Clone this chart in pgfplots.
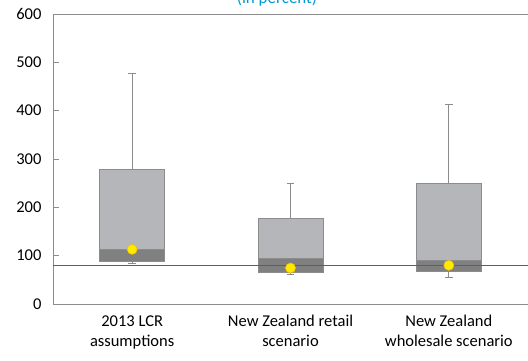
\documentclass[border=0pt]{standalone}
\usepackage{pgfplots}
\pgfplotsset{compat=1.18}
\usepackage{fontspec}
\setmainfont{Carlito}
\definecolor{lightbox}{RGB}{181,182,186}
\definecolor{darkbox}{RGB}{128,128,128}
\definecolor{bordergray}{RGB}{140,140,140}
\definecolor{axisgray}{RGB}{140,140,140}
\definecolor{titleblue}{RGB}{0,153,210}
\definecolor{dotyellow}{RGB}{255,235,0}
\definecolor{dotedge}{RGB}{245,190,0}
\definecolor{threshred}{RGB}{235,35,35}
\begin{document}
\begin{tikzpicture}
\begin{axis}[
  at={(0,0)}, anchor=south west,
  scale only axis, width=475pt, height=290pt,
  xmin=-0.5, xmax=2.5, ymin=0, ymax=600,
  axis x line*=bottom, axis y line*=left,
  axis line style={draw=axisgray, line width=0.8pt},
  tick align=inside,
  ytick={0,100,...,600},
  major tick length=6pt,
  tick style={draw=axisgray, line width=0.8pt},
  xtick={0,1,2},
  xticklabels={{2013 LCR\\assumptions},{New Zealand retail\\scenario},{New Zealand\\wholesale scenario}},
  x tick style={draw=none},
  extra x ticks={0.5,1.5},
  extra x tick labels={},
  extra x tick style={tick style={draw=axisgray, line width=0.8pt}, major tick length=4pt},
  xticklabel style={align=center, font=\fontsize{16.5}{20}\selectfont, yshift=-8pt},
  yticklabel style={font=\fontsize{16.5}{20}\selectfont, xshift=-8pt},
  /pgf/number format/assume math mode=true,
  clip=false,
]
% 2013 LCR
\addplot[bordergray, line width=0.8pt] coordinates {(0,278) (0,478)};
\addplot[bordergray, line width=0.8pt] coordinates {(-0.025,478) (0.025,478)};
\addplot[bordergray, line width=0.8pt] coordinates {(0,87.5) (0,83)};
\addplot[bordergray, line width=0.8pt] coordinates {(-0.025,83) (0.025,83)};
\addplot[draw=bordergray, fill=lightbox, line width=0.8pt] coordinates {(-0.205,113) (0.205,113) (0.205,278) (-0.205,278) (-0.205,113)};
\addplot[draw=bordergray, fill=darkbox, line width=0.8pt] coordinates {(-0.205,87.5) (0.205,87.5) (0.205,113) (-0.205,113) (-0.205,87.5)};
% NZ retail
\addplot[bordergray, line width=0.8pt] coordinates {(1,176.5) (1,249)};
\addplot[bordergray, line width=0.8pt] coordinates {(0.975,249) (1.025,249)};
\addplot[bordergray, line width=0.8pt] coordinates {(1,65) (1,61)};
\addplot[bordergray, line width=0.8pt] coordinates {(0.975,61) (1.025,61)};
\addplot[draw=bordergray, fill=lightbox, line width=0.8pt] coordinates {(0.795,94.5) (1.205,94.5) (1.205,176.5) (0.795,176.5) (0.795,94.5)};
\addplot[draw=bordergray, fill=darkbox, line width=0.8pt] coordinates {(0.795,65) (1.205,65) (1.205,94.5) (0.795,94.5) (0.795,65)};
% NZ wholesale
\addplot[bordergray, line width=0.8pt] coordinates {(2,249) (2,414)};
\addplot[bordergray, line width=0.8pt] coordinates {(1.975,414) (2.025,414)};
\addplot[bordergray, line width=0.8pt] coordinates {(2,67) (2,55)};
\addplot[bordergray, line width=0.8pt] coordinates {(1.975,55) (2.025,55)};
\addplot[draw=bordergray, fill=lightbox, line width=0.8pt] coordinates {(1.795,89.5) (2.205,89.5) (2.205,249) (1.795,249) (1.795,89.5)};
\addplot[draw=bordergray, fill=darkbox, line width=0.8pt] coordinates {(1.795,67) (2.205,67) (2.205,89.5) (1.795,89.5) (1.795,67)};
% means
\addplot[only marks, mark=*, mark size=5pt, mark options={fill=dotyellow, draw=dotedge, line width=0.6pt}] coordinates {(0,113) (1,74.5) (2,80)};
% threshold
\addplot[draw=threshred, solid, line width=1.2pt] coordinates {(-0.5,80) (2.5,80)};
\draw[axisgray, line width=0.8pt] (rel axis cs:0,1) -- (rel axis cs:1,1);
\end{axis}
\node[font=\fontsize{17}{20}\selectfont, text=titleblue, anchor=base] at (224pt,301pt) {(in percent)};
\pgfresetboundingbox
\useasboundingbox (-53pt,-56pt) rectangle (475pt,304pt);
\end{tikzpicture}
\end{document}
